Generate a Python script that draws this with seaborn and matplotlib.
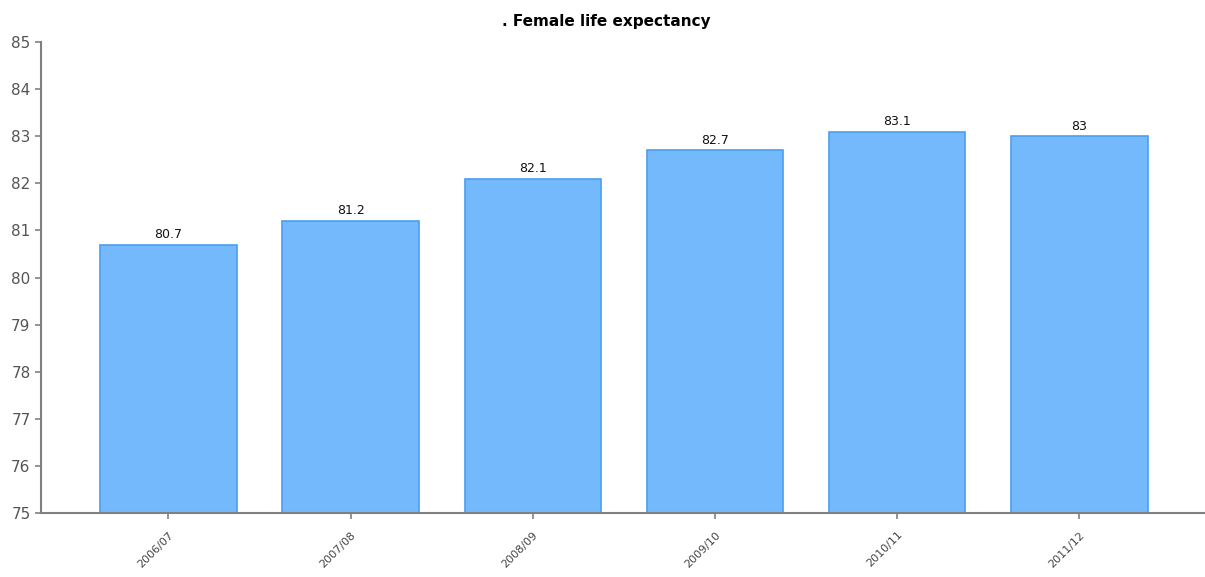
import pandas as pd
import matplotlib
matplotlib.use("Agg")
import matplotlib.pyplot as plt
import seaborn as sns

# data
years = ["2006/07", "2007/08", "2008/09", "2009/10", "2010/11", "2011/12"]
life_exp = [80.7, 81.2, 82.1, 82.7, 83.1, 83.0]
value_labels = ["80.7", "81.2", "82.1", "82.7", "83.1", "83"]

df = pd.DataFrame({"year": years, "value": life_exp})

sns.set_style("white")
plt.rcParams["font.family"] = ["DejaVu Sans"]

fig = plt.figure(figsize=(12.05, 5.77), dpi=100)
ax = fig.add_axes([0.034, 0.111, 0.966, 0.816])

sns.barplot(data=df, x="year", y="value", color="#75b9fd", width=0.75,
            edgecolor="#4a9ff0", linewidth=1.2, saturation=1, ax=ax)

for i, (v, lab) in enumerate(zip(life_exp, value_labels)):
    ax.text(i, v + 0.08, lab, ha="center", va="bottom", fontsize=9, color="#111111")

ax.set_ylim(75, 85)
ax.set_yticks(range(75, 86))
ax.set_xlim(-0.70, 5.69)
ax.set_xlabel("")
ax.set_ylabel("")
fig.text(0.503, 0.962, ". Female life expectancy", ha="center", va="center",
         fontsize=11, fontweight="bold", color="#000000")

for s in ["top", "right"]:
    ax.spines[s].set_visible(False)
for s in ["left", "bottom"]:
    ax.spines[s].set_color("#808080")
    ax.spines[s].set_linewidth(1.5)

ax.tick_params(axis="y", labelsize=11, labelcolor="#555555", color="#808080",
               length=4, width=1.2, left=True)
ax.tick_params(axis="x", labelsize=8, labelcolor="#444444", color="#808080",
               length=4, width=1.2, bottom=True, pad=8)
plt.setp(ax.get_xticklabels(), rotation=45, ha="right", rotation_mode="anchor")

fig.savefig("out.png", dpi=100)
